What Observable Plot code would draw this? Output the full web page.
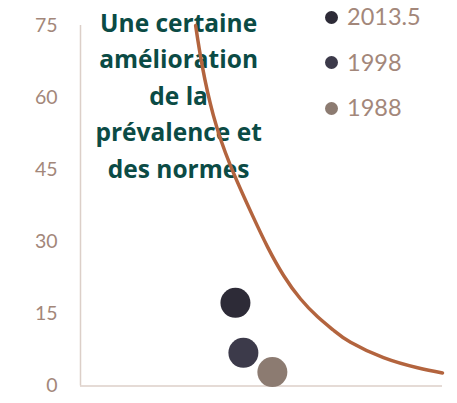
<!DOCTYPE html>
<html>
<head>
<meta charset="utf-8">
<script src="https://cdn.jsdelivr.net/npm/d3@7"></script>
<script src="https://cdn.jsdelivr.net/npm/@observablehq/plot@0.6"></script>
<style>
  html, body { margin: 0; padding: 0; background: #fff; }
  #wrap { position: relative; width: 457px; height: 403px; overflow: hidden; font-family: Lato, "Open Sans", sans-serif; }
  #legend { position: absolute; left: 325px; top: -5.75px; }
  .row { display: flex; align-items: center; height: 45.5px; }
  .sw { width: 13px; height: 13px; border-radius: 50%; margin-right: 9px; }
  .lab { font-size: 23.5px; color: #a3877a; line-height: 1; }
</style>
</head>
<body>
<div id="wrap"></div>
<script>
// ---- data ----
const yTicks = [0, 15, 30, 45, 60, 75];

const curveX = [31.8, 33.6, 36.7, 41.4, 47.5, 51.7, 56.1, 60.8, 65.5, 69.9, 74.6, 83.7, 93.1, 100];
const curveY = [75, 66.7, 56.3, 45.9, 35.5, 28.9, 23.0, 18.1, 14.4, 11.6, 9.1, 5.9, 3.8, 2.7];

const years = ["2013.5", "1998", "1988"];
const pointX = [42.8, 45.0, 53.0];
const pointY = [17.3, 6.9, 2.9];
const yearColors = ["#2d2b37", "#3c3a4a", "#8c7b71"];

const annotationText = ["Une certaine", "amélioration", "de la", "prévalence et", "des normes"];
const annotationX = [27.1];
const annotationY = [79.1];

// ---- build tables ----
const curve = curveX.map((x, i) => ({x, y: curveY[i]}));
const points = years.map((year, i) => ({year, x: pointX[i], y: pointY[i], color: yearColors[i]}));
const annotation = [{x: annotationX[0], y: annotationY[0], text: annotationText.join("\n")}];

const chart = Plot.plot({
  width: 457,
  height: 403,
  marginLeft: 80,
  marginRight: 15,
  marginTop: 25,
  marginBottom: 17.5,
  style: { fontFamily: "Lato, 'Open Sans', sans-serif", color: "#a3877a", background: "transparent" },
  x: { domain: [0, 100], axis: null },
  y: { domain: [0, 75] },
  marks: [
    Plot.axisY({ ticks: yTicks, tickSize: 0, tickPadding: 23, fontSize: 19.5, label: null, fill: "#a3877a" }),
    Plot.ruleX([0], { stroke: "#dccfc8", strokeWidth: 1.5 }),
    Plot.ruleY([0], { stroke: "#dccfc8", strokeWidth: 1.5 }),
    Plot.text(annotation, {
      x: "x", y: "y", text: "text",
      lineAnchor: "top", lineHeight: 1.49,
      fontSize: 24.5, fontWeight: "bold", fontFamily: "'Open Sans', sans-serif",
      fill: "#0b4b45", textAnchor: "middle"
    }),
    Plot.line(curve, { x: "x", y: "y", stroke: "#b3643e", strokeWidth: 3.5, curve: "natural" }),
    Plot.dot(points, { x: "x", y: "y", r: 15, fill: "color", stroke: "none" })
  ]
});

const wrap = document.getElementById("wrap");
wrap.appendChild(chart);
chart.style.position = "absolute";
chart.style.left = "0px";
chart.style.top = "0px";

const legend = document.createElement("div");
legend.id = "legend";
years.forEach((y, i) => {
  const row = document.createElement("div");
  row.className = "row";
  const sw = document.createElement("span");
  sw.className = "sw";
  sw.style.background = yearColors[i];
  const lab = document.createElement("span");
  lab.className = "lab";
  lab.textContent = y;
  row.appendChild(sw);
  row.appendChild(lab);
  legend.appendChild(row);
});
wrap.appendChild(legend);
</script>
</body>
</html>
